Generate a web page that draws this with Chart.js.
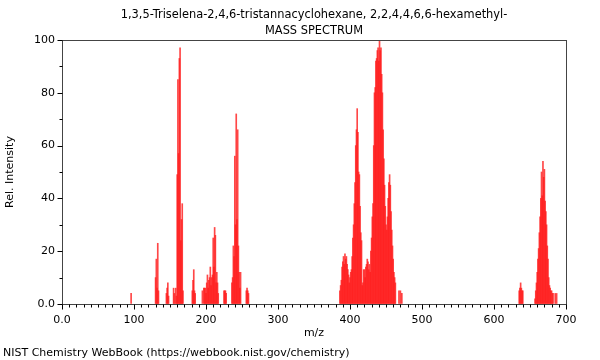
<!DOCTYPE html>
<html>
<head>
<meta charset="utf-8">
<script src="https://cdn.jsdelivr.net/npm/chart.js@4/dist/chart.umd.min.js"></script>
<style>
  html, body { margin: 0; padding: 0; background: #fff; }
  #wrap { position: relative; width: 600px; height: 360px; }
  #footer { position: absolute; left: 3px; top: 346px; font: 11px "DejaVu Sans", sans-serif; color: #000; white-space: nowrap; line-height: 13px; }
</style>
</head>
<body>
<div id="wrap">
  <canvas id="c" width="600" height="360"></canvas>
  <div id="footer">NIST Chemistry WebBook (https://webbook.nist.gov/chemistry)</div>
</div>
<script>
const titleLines = ["1,3,5-Triselena-2,4,6-tristannacyclohexane, 2,2,4,4,6,6-hexamethyl-", "MASS SPECTRUM"];
const xTitle = "m/z";
const yTitle = "Rel. Intensity";

const mz = [
  96,
  130, 131, 132, 133, 134,
  145, 146, 147, 148,
  155, 156, 158, 159, 160, 161, 162, 163, 164, 165, 166, 167, 168,
  181, 182, 183, 184, 185,
  195, 197, 198, 199, 200, 201, 202, 203, 204, 205, 206, 207, 208, 209, 210, 211, 212, 213, 214, 215, 216, 217,
  225, 226, 227, 228,
  236, 237, 238, 239, 240, 241, 242, 243, 244, 245, 246, 247, 248,
  256, 257, 258, 259,
  386, 387, 388, 389, 390, 391, 392, 393, 394, 395, 396, 397, 398, 399, 400, 401, 402, 403, 404, 405,
  406, 407, 408, 409, 410, 411, 412, 413, 414, 415, 416, 417, 418, 419, 420, 421, 422, 423, 424, 425,
  426, 427, 428, 429, 430, 431, 432, 433, 434, 435, 436, 437, 438, 439, 440, 441, 442, 443, 444, 445,
  446, 447, 448, 449, 450, 451, 452, 453, 454, 455, 456, 457, 458, 459, 460, 461, 462, 463,
  468, 470, 472,
  635, 636, 637, 638, 639, 640,
  657, 658, 659, 660, 661, 662, 663, 664, 665, 666, 667, 668, 669, 670, 671, 672, 673, 674, 675, 676,
  677, 678, 679, 680, 681, 682, 685, 687
];
const intensity = [
  4,
  10, 17, 6, 23, 5,
  4, 6, 8, 3,
  6, 4, 6, 3, 49, 85, 57, 93, 97, 24, 32, 38, 5,
  5, 9, 13, 5, 4,
  5, 6, 6, 6, 4, 8, 11, 6, 9, 10, 14, 7, 10, 11, 25, 14, 29, 26, 8, 12, 8, 4,
  5, 5, 5, 4,
  8, 10, 22, 18, 56, 30, 72, 32, 66, 22, 12, 6, 12,
  5, 6, 5, 4,
  5, 7, 9, 14, 16, 18, 15, 19, 17, 18, 15, 13, 11, 8, 10, 12, 13, 18, 25, 30,
  38, 46, 60, 66, 74, 65, 50, 49, 37, 27, 24, 7, 8, 13, 13, 10, 14, 15, 17, 16,
  13, 15, 12, 20, 25, 33, 38, 60, 80, 82, 92, 93, 96, 97, 92, 100, 96, 97, 87, 80,
  66, 55, 45, 37, 30, 28, 33, 40, 46, 49, 45, 35, 28, 22, 17, 12, 10, 8,
  5, 5, 4,
  5, 6, 8, 6, 5, 5,
  2, 5, 8, 12, 17, 21, 27, 33, 40, 50, 41, 54, 48, 51, 39, 35, 30, 22, 17, 10,
  7, 6, 5, 5, 4, 4, 4, 4
];

const FONT = '"DejaVu Sans", sans-serif';

const frameAndTicks = {
  id: 'frameAndTicks',
  afterDraw(chart) {
    const ctx = chart.ctx;
    const a = chart.chartArea;
    const xs = chart.scales.x, ys = chart.scales.y;
    ctx.save();
    // title
    ctx.fillStyle = '#000';
    ctx.font = '11.4px ' + FONT;
    ctx.textAlign = 'center';
    ctx.textBaseline = 'middle';
    const cx = (a.left + a.right) / 2;
    ctx.fillText(titleLines[0], cx, 15);
    ctx.fillText(titleLines[1], cx, 31);
    // frame
    ctx.strokeStyle = '#444';
    ctx.lineWidth = 1;
    ctx.strokeRect(Math.round(a.left) + 0.5, Math.round(a.top) + 0.5, Math.round(a.right - a.left), Math.round(a.bottom - a.top));
    ctx.strokeStyle = '#000';
    ctx.beginPath();
    for (let v = 0; v <= 700; v += 10) {
      const px = Math.round(xs.getPixelForValue(v)) + 0.5;
      const len = (v % 100 === 0) ? 5 : 3;
      ctx.moveTo(px, Math.round(a.bottom) + 0.5);
      ctx.lineTo(px, Math.round(a.bottom) + 0.5 + len);
    }
    for (let v = 0; v <= 100; v += 10) {
      const py = Math.round(ys.getPixelForValue(v)) + 0.5;
      const len = (v % 20 === 0) ? 5 : 3;
      ctx.moveTo(Math.round(a.left) + 0.5, py);
      ctx.lineTo(Math.round(a.left) + 0.5 - len, py);
    }
    ctx.stroke();
    ctx.restore();
  }
};

new Chart(document.getElementById('c'), {
  type: 'bar',
  data: {
    datasets: [{
      data: mz.map((m, i) => ({ x: m, y: intensity[i] })),
      backgroundColor: 'rgba(255, 30, 30, 0.82)',
      borderWidth: 0,
      barThickness: 1,
      grouped: false
    }]
  },
  options: {
    responsive: false,
    animation: false,
    devicePixelRatio: 1,
    layout: { padding: { left: 0, right: 34, top: 40, bottom: 20 } },
    plugins: {
      legend: { display: false },
      tooltip: { enabled: false },
      title: { display: false }
    },
    scales: {
      x: {
        type: 'linear',
        min: 0, max: 700,
        offset: false,
        afterFit(scale) { scale.height = 36; },
        grid: { display: true, drawOnChartArea: false, drawTicks: true, tickLength: 5, color: 'rgba(0,0,0,0)' },
        border: { display: false },
        ticks: {
          stepSize: 10,
          autoSkip: false,
          maxRotation: 0,
          padding: 5,
          color: '#000',
          font: { family: FONT, size: 11 },
          callback: (v) => (v % 100 === 0 ? (v === 0 ? '0.0' : String(v)) : '')
        },
        title: { display: true, text: xTitle, color: '#000', font: { family: FONT, size: 11 }, padding: { top: 0, bottom: 0 } }
      },
      y: {
        min: 0, max: 100,
        afterFit(scale) { scale.width = 62; },
        grid: { display: true, drawOnChartArea: false, drawTicks: true, tickLength: 5, color: 'rgba(0,0,0,0)' },
        border: { display: false },
        ticks: {
          stepSize: 10,
          autoSkip: false,
          padding: 2,
          color: '#000',
          font: { family: FONT, size: 11 },
          callback: (v) => (v % 20 === 0 ? (v === 0 ? '0.0' : String(v)) : '')
        },
        title: { display: true, text: yTitle, color: '#000', font: { family: FONT, size: 11 }, padding: { top: 4, bottom: 6 } }
      }
    }
  },
  plugins: [frameAndTicks]
});
</script>
</body>
</html>
